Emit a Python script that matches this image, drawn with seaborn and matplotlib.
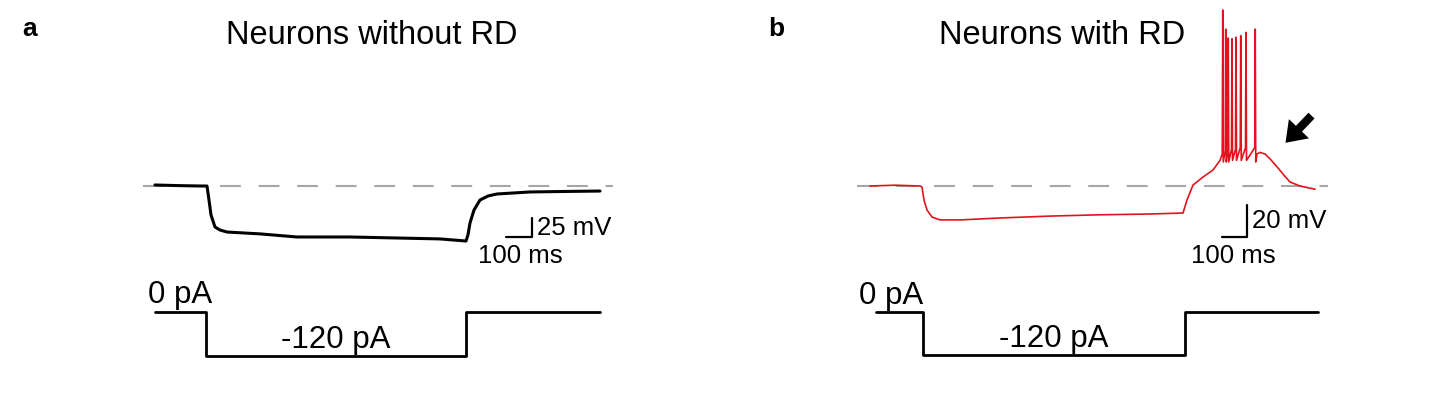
import matplotlib
matplotlib.use("Agg")
import matplotlib.pyplot as plt
import seaborn as sns
import numpy as np

sns.set_style("white")
plt.rcParams['font.family'] = ['Liberation Sans', 'DejaVu Sans']
plt.rcParams['text.color'] = 'black'

# ---- data (ms, mV relative to rest, pA) ----
# panel a: neuron without rebound depolarisation
t_a = [0, 90, 180, 208, 216, 224, 240, 260, 288, 420, 568, 780, 968, 1140, 1244,
       1252, 1260, 1276, 1300, 1332, 1368, 1500, 1640, 1780]
v_a = [1.2, 0.5, 0, 0, -16.7, -34.5, -48.8, -52.4, -54.8, -57, -60.7, -60.7, -61.9,
       -63, -65.5, -58, -44, -28.6, -16.7, -11.9, -9.5, -7.1, -6.5, -6]

# panel b: neuron with rebound depolarisation (burst of spikes)
t_b = [0, 100, 200, 208, 216, 228, 248, 280, 360, 520, 720, 920, 1120, 1252,
       1268, 1292, 1332, 1372, 1400,
       1409, 1411, 1413, 1421, 1423, 1425, 1431, 1433, 1435, 1446, 1448, 1450,
       1462, 1464, 1466, 1481, 1483, 1485, 1502, 1504, 1506, 1539, 1541, 1543,
       1548, 1560, 1580, 1600, 1628, 1660, 1680, 1720, 1750, 1780]
v_b = [0, 0.5, 0, -0.6, -8.75, -15, -19.4, -21.2, -21.2, -20, -18.8, -18, -17.5, -16.9,
       -8.75, 0.6, 5.6, 10, 16,
       20, 110, 15, 22, 98, 15, 22, 92.5, 15, 23, 92, 16, 23, 93, 16, 24, 94, 16,
       24, 96, 16, 24, 98, 15,
       20, 21, 20, 17, 12, 6, 2.5, 0, -1, -2]

# current injection protocol
t_ia = [0, 205, 205, 1245, 1245, 1780]
i_a = [0, 0, -120, -120, 0, 0]
t_ib = [24, 212, 212, 1258, 1258, 1792]
i_b = [0, 0, -120, -120, 0, 0]

W, H = 1456, 405
fig = plt.figure(figsize=(W / 100, H / 100), dpi=100)


def overlay(x0, y0, xs, ys):
    # full-figure transparent axes; x0,y0 = pixel of data origin, xs/ys = units per pixel
    ax = fig.add_axes([0, 0, 1, 1])
    ax.set_xlim(-x0 * xs, (W - x0) * xs)
    ax.set_ylim(-(H - y0) * ys, y0 * ys)
    ax.axis('off')
    ax.patch.set_alpha(0)
    return ax


dash = dict(color='#a6a6a6', lw=1.5, linestyle=(0, (10, 8.5)))
txt = dict(fontsize=18.5, color='black')

# ---- panel a ----
axa = overlay(155, 186, 4, 1 / 0.84)
axa.plot([-48, 1832], [0, 0], **dash)
sns.lineplot(x=t_a, y=v_a, ax=axa, color='black', lw=2.2, estimator=None, sort=False)
axa.plot([1404, 1508, 1508], [-61, -61, -38], color='black', lw=1.6)
axa.text(1528, -50, '25 mV', ha='left', va='center', **txt)
axa.text(1460, -83, '100 ms', ha='center', va='center', **txt)

axia = overlay(155, 312, 4, 120 / 44)
sns.lineplot(x=t_ia, y=i_a, ax=axia, color='black', lw=2, estimator=None, sort=False)
axia.text(-30, 46, '0 pA', ha='left', va='center', fontsize=22.5)
axia.text(724, -76, '-120 pA', ha='center', va='center', fontsize=22.5)

# ---- panel b ----
axb = overlay(870, 186, 4, 1 / 1.6)
axb.plot([-52, 1832], [0, 0], **dash)
sns.lineplot(x=t_b, y=v_b, ax=axb, color='#e3131e', lw=1.2, estimator=None, sort=False)
axb.plot([1408, 1508, 1508], [-32, -32, -12], color='black', lw=1.6)
axb.text(1528, -22, '20 mV', ha='left', va='center', **txt)
axb.text(1452, -44, '100 ms', ha='center', va='center', **txt)
axb.annotate('', xy=(1662, 27), xytext=(1766, 44),
             arrowprops=dict(facecolor='black', edgecolor='none', width=6,
                             headwidth=20, headlength=14))

axib = overlay(870, 312, 4, 120 / 43)
sns.lineplot(x=t_ib, y=i_b, ax=axib, color='black', lw=2, estimator=None, sort=False)
axib.text(-46, 46, '0 pA', ha='left', va='center', fontsize=22.5)
axib.text(736, -76, '-120 pA', ha='center', va='center', fontsize=22.5)

# titles and panel letters
fig.text(372 / W, 1 - 36 / H, 'Neurons without RD', ha='center', va='center', fontsize=23.5)
fig.text(1062 / W, 1 - 35 / H, 'Neurons with RD', ha='center', va='center', fontsize=23.5)
fig.text(22 / W, 1 - 29 / H, 'a', ha='left', va='center', fontsize=19, fontweight='bold')
fig.text(768 / W, 1 - 29 / H, 'b', ha='left', va='center', fontsize=19, fontweight='bold')

fig.savefig('out.png', dpi=100)
